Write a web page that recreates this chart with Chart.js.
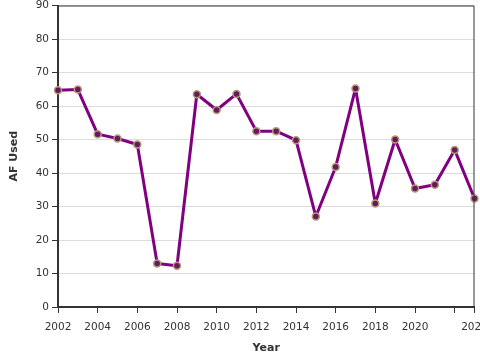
<!DOCTYPE html>
<html>
<head>
<meta charset="utf-8">
<script src="https://cdn.jsdelivr.net/npm/chart.js@4/dist/chart.umd.min.js"></script>
<style>
html,body{margin:0;padding:0;background:#fff;}
#wrap{width:480px;height:360px;position:relative;}
</style>
</head>
<body>
<div id="wrap"><canvas id="c" width="480" height="360"></canvas></div>
<script>
const years = [2002,2003,2004,2005,2006,2007,2008,2009,2010,2011,2012,2013,2014,2015,2016,2017,2018,2019,2020,2021,2022,2023];
const afUsed = [64.7,64.9,51.6,50.3,48.5,13.0,12.3,63.5,58.8,63.6,52.5,52.5,49.8,27.0,41.8,65.2,30.9,50.0,35.4,36.5,46.9,32.4];
const xTickValues = [2002,2004,2006,2008,2010,2012,2014,2016,2018,2020,2022,2023];
const xHiddenLabels = [2022];
const yTickValues = [0,10,20,30,40,50,60,70,80,90];
const xTitle = 'Year';
const yTitle = 'AF Used';

const frame = {
  id: 'frame',
  afterDatasetsDraw(chart) {
    const a = chart.chartArea, ctx = chart.ctx;
    ctx.save();
    ctx.strokeStyle = '#333';
    ctx.lineWidth = 1;
    ctx.beginPath();
    ctx.moveTo(a.left, a.top + 0.5);
    ctx.lineTo(a.right - 0.5, a.top + 0.5);
    ctx.lineTo(a.right - 0.5, a.bottom);
    ctx.stroke();
    ctx.restore();
  }
};

new Chart(document.getElementById('c'), {
  type: 'line',
  data: {
    datasets: [{
      data: years.map((y, i) => ({x: y, y: afUsed[i]})),
      borderColor: '#800080',
      borderWidth: 3,
      borderJoinStyle: 'round',
      borderCapStyle: 'round',
      tension: 0,
      pointRadius: 3.5,
      pointBackgroundColor: '#661a5c',
      pointBorderColor: '#b39b7a',
      pointBorderWidth: 1.5,
      clip: false
    }]
  },
  options: {
    responsive: false,
    animation: false,
    layout: {padding: {top: 4, right: 3, left: 0, bottom: 0}},
    plugins: {legend: {display: false}, tooltip: {enabled: false}},
    scales: {
      x: {
        type: 'linear',
        min: 2002,
        max: 2023,
        afterBuildTicks(s) { s.ticks = xTickValues.map(v => ({value: v})); },
        afterFit(s) { s.height = 53; s.paddingLeft = 0; s.paddingRight = 0; },
        ticks: {
          autoSkip: false,
          maxRotation: 0,
          padding: 8,
          color: '#333',
          font: {family: 'DejaVu Sans', size: 10.5},
          callback: v => xHiddenLabels.includes(v) ? '' : String(v)
        },
        grid: {display: true, drawOnChartArea: false, drawTicks: true, tickLength: 6, tickColor: '#333', tickWidth: 1},
        border: {display: true, color: '#333', width: 2},
        title: {display: true, text: xTitle, color: '#333', font: {family: 'DejaVu Sans', size: 11, weight: 'bold'}, padding: {top: 2, bottom: 5}}
      },
      y: {
        type: 'linear',
        min: 0,
        max: 90,
        afterBuildTicks(s) { s.ticks = yTickValues.map(v => ({value: v})); },
        afterFit(s) { s.width = 58; s.paddingTop = 0; s.paddingBottom = 0; },
        ticks: {
          padding: 3,
          color: '#333',
          font: {family: 'DejaVu Sans', size: 10.5}
        },
        grid: {color: '#dcdcdc', lineWidth: 1, tickLength: 6, tickColor: '#333', tickWidth: 1},
        border: {display: true, color: '#333', width: 2},
        title: {display: true, text: yTitle, color: '#333', font: {family: 'DejaVu Sans', size: 11, weight: 'bold'}, padding: {top: 8, bottom: 4}}
      }
    }
  },
  plugins: [frame]
});
</script>
</body>
</html>
